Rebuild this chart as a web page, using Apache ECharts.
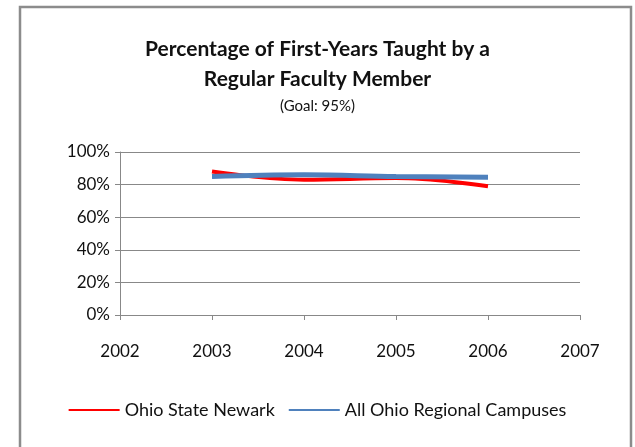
<!DOCTYPE html>
<head>
    <meta charset="utf-8">
    <script type="text/javascript" src="https://cdn.jsdelivr.net/npm/echarts@6/dist/echarts.min.js"></script>
</head>
<body style="margin:0">
	<div id="main" style="width:635px; height:447px"></div>
	<script type="text/javascript">
		var years = [2003, 2004, 2005, 2006];
		var newark = [88, 83, 84, 79];
		var regional = [85, 86, 85, 84.5];
		var xTicks = [2002, 2003, 2004, 2005, 2006, 2007];
		var yTicks = [0, 20, 40, 60, 80, 100];

		function pairs(vals) {
			var out = [];
			for (var i = 0; i < years.length; i++) out.push([years[i], vals[i]]);
			return out;
		}

		var font = 'Lato';
		var myChart = echarts.init(document.getElementById('main'));
		var option = {
			backgroundColor: '#fff',
			animation: false,
			graphic: [{
				type: 'rect',
				shape: {x: 20, y: 7, width: 611, height: 460},
				style: {fill: 'none', stroke: '#8c8c8c', lineWidth: 2.5}
			}],
			title: {
				text: 'Percentage of First-Years Taught by a\nRegular Faculty Member',
				subtext: '(Goal: 95%)',
				left: 'center',
				top: 29,
				itemGap: 5,
				textStyle: {fontFamily: font, fontSize: 21, fontWeight: 'bold', color: '#111', lineHeight: 30},
				subtextStyle: {fontFamily: font, fontSize: 15, color: '#111'}
			},
			legend: {
				bottom: 23,
				left: 'center',
				itemWidth: 51,
				itemHeight: 2,
				itemGap: 14,
				icon: 'rect',
				textStyle: {fontFamily: font, fontSize: 18, color: '#111'},
				data: ['Ohio State Newark', 'All Ohio Regional Campuses']
			},
			grid: {left: 120, right: 55, top: 152, bottom: 132},
			xAxis: {
				type: 'value', min: xTicks[0], max: xTicks[xTicks.length - 1], interval: 1,
				axisLine: {lineStyle: {color: '#888'}},
				axisTick: {show: true, inside: false, length: 5, lineStyle: {color: '#888'}},
				splitLine: {show: false},
				axisLabel: {fontFamily: font, fontSize: 17, color: '#111', margin: 28,
					formatter: function (v) { return String(v); }}
			},
			yAxis: {
				type: 'value', min: yTicks[0], max: yTicks[yTicks.length - 1], interval: 20,
				axisLine: {show: true, lineStyle: {color: '#888'}},
				axisTick: {show: true, length: 5, lineStyle: {color: '#888'}},
				splitLine: {lineStyle: {color: '#888'}},
				axisLabel: {fontFamily: font, fontSize: 17, color: '#111', margin: 10, formatter: '{value}%'}
			},
			series: [
				{
					name: 'Ohio State Newark', type: 'line', smooth: 0.4,
					data: pairs(newark), showSymbol: false, symbol: 'none',
					itemStyle: {color: '#ff0000'},
					lineStyle: {width: 4, color: '#ff0000'}
				},
				{
					name: 'All Ohio Regional Campuses', type: 'line', smooth: 0.4,
					data: pairs(regional), showSymbol: false, symbol: 'none',
					itemStyle: {color: '#4f81bd'},
					lineStyle: {width: 5, color: '#4f81bd'}
				}
			]
		};
		myChart.setOption(option);
	</script>
</body>
